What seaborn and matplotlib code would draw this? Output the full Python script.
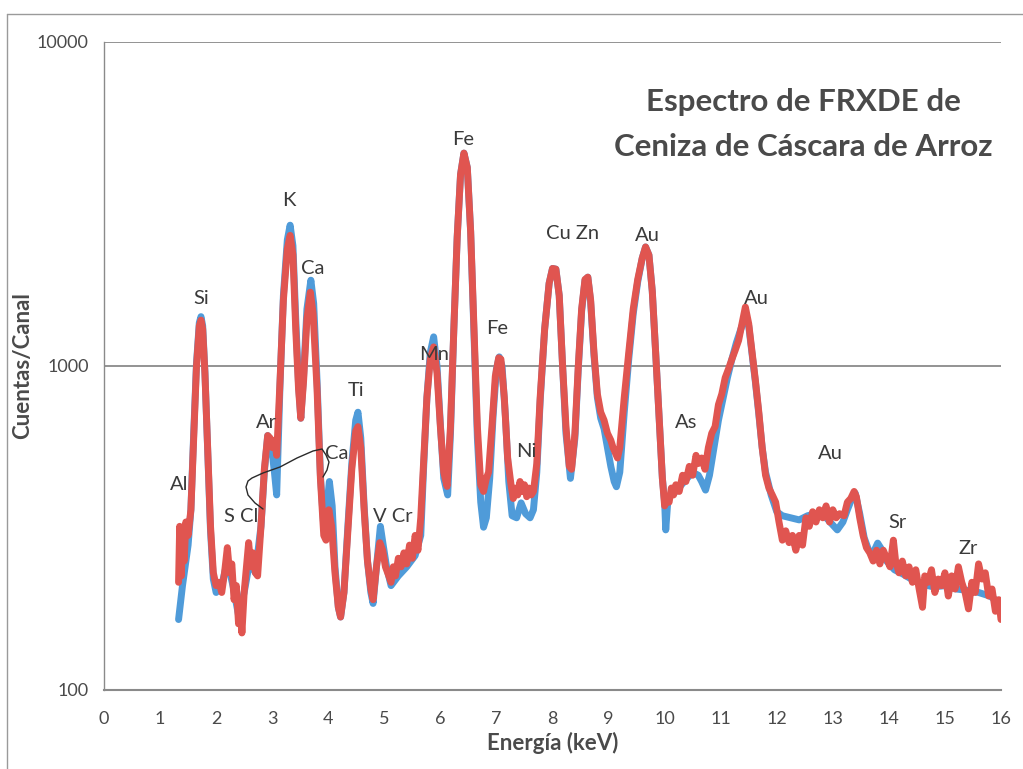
import numpy as np
import pandas as pd
import matplotlib
matplotlib.use("Agg")
import matplotlib.pyplot as plt
import seaborn as sns
from matplotlib.lines import Line2D

# ---------------- data ----------------
red_kev = [1.33, 1.35, 1.38, 1.40, 1.43, 1.46, 1.50, 1.55, 1.60, 1.65, 1.70, 1.73, 1.76, 1.80, 1.85, 1.90,
           1.95, 2.00, 2.05, 2.10, 2.15, 2.20, 2.24, 2.28, 2.32, 2.36, 2.40, 2.43, 2.46, 2.50, 2.55, 2.58,
           2.62, 2.66, 2.70, 2.74, 2.80, 2.86, 2.92, 2.96, 3.00, 3.04, 3.08, 3.14, 3.20, 3.27, 3.32, 3.37,
           3.42, 3.47, 3.51, 3.56, 3.62, 3.68, 3.73, 3.80, 3.86, 3.92, 3.96, 4.01, 4.06, 4.12, 4.18, 4.22,
           4.28, 4.35, 4.42, 4.49, 4.53, 4.58, 4.64, 4.70, 4.76, 4.80, 4.86, 4.92, 4.97, 5.02, 5.08, 5.12,
           5.16, 5.20, 5.25, 5.30, 5.35, 5.40, 5.45, 5.50, 5.55, 5.60, 5.65, 5.70, 5.76, 5.82, 5.88, 5.94,
           6.00, 6.06, 6.12, 6.18, 6.24, 6.30, 6.36, 6.42, 6.48, 6.54, 6.60, 6.66, 6.72, 6.77, 6.82, 6.86,
           6.92, 6.98, 7.04, 7.08, 7.14, 7.20, 7.26, 7.30, 7.34, 7.38, 7.42, 7.46, 7.50, 7.54, 7.58, 7.62,
           7.66, 7.72, 7.78, 7.86, 7.94, 8.00, 8.06, 8.12, 8.18, 8.24, 8.30, 8.34, 8.40, 8.46, 8.52, 8.58,
           8.63, 8.68, 8.74, 8.80, 8.86, 8.92, 8.98, 9.04, 9.08, 9.12, 9.16, 9.20, 9.28, 9.36, 9.44, 9.52,
           9.60, 9.66, 9.72, 9.78, 9.84, 9.90, 9.96, 10.00, 10.04, 10.08, 10.12, 10.16, 10.20, 10.26, 10.32, 10.38,
           10.44, 10.50, 10.56, 10.60, 10.66, 10.72, 10.78, 10.84, 10.90, 10.96, 11.02, 11.08, 11.14, 11.20, 11.26, 11.32,
           11.38, 11.44, 11.50, 11.56, 11.62, 11.68, 11.74, 11.80, 11.86, 11.92, 11.98, 12.04, 12.10, 12.16, 12.22, 12.28,
           12.34, 12.40, 12.46, 12.52, 12.58, 12.64, 12.70, 12.76, 12.82, 12.88, 12.94, 13.00, 13.06, 13.12, 13.20, 13.26,
           13.32, 13.38, 13.42, 13.48, 13.54, 13.60, 13.66, 13.72, 13.78, 13.84, 13.90, 13.96, 14.02, 14.08, 14.12, 14.18,
           14.24, 14.30, 14.36, 14.42, 14.48, 14.54, 14.60, 14.64, 14.70, 14.76, 14.82, 14.88, 14.94, 15.00, 15.06, 15.12,
           15.18, 15.24, 15.30, 15.36, 15.42, 15.48, 15.54, 15.60, 15.66, 15.72, 15.78, 15.84, 15.90, 15.96, 16.00]
red_counts = [215, 320, 225, 300, 250, 330, 300, 360, 600, 1000, 1330, 1385, 1300, 950, 550, 320,
              230, 210, 215, 200, 230, 275, 230, 245, 190, 210, 160, 185, 150, 200, 250, 285,
              240, 265, 230, 225, 320, 480, 610, 600, 560, 590, 530, 900, 1600, 2300, 2530, 2200,
              1300, 850, 690, 900, 1400, 1690, 1450, 850, 450, 300, 290, 360, 320, 230, 180, 168,
              200, 310, 480, 630, 650, 560, 360, 250, 205, 190, 240, 285, 270, 240, 225, 215,
              240, 225, 255, 240, 265, 245, 280, 255, 300, 270, 340, 500, 800, 1050, 1145, 950,
              650, 470, 425, 650, 1300, 2500, 3900, 4540, 4100, 2600, 1300, 650, 430, 410, 450, 470,
              650, 930, 1060, 1050, 800, 520, 430, 390, 420, 400, 440, 410, 430, 395, 420, 400,
              410, 500, 800, 1300, 1800, 2000, 1990, 1650, 1000, 650, 490, 480, 620, 1000, 1500, 1850,
              1880, 1600, 1100, 820, 720, 680, 620, 590, 560, 540, 520, 560, 800, 1100, 1500, 1850,
              2150, 2330, 2200, 1700, 1100, 700, 450, 370, 390, 380, 420, 400, 430, 410, 460, 440,
              490, 460, 530, 500, 520, 480, 560, 620, 650, 760, 820, 920, 980, 1050, 1120, 1200,
              1350, 1520, 1350, 1100, 900, 720, 560, 460, 420, 400, 380, 330, 290, 310, 285, 300,
              270, 300, 280, 340, 320, 355, 330, 360, 340, 370, 330, 360, 340, 350, 345, 380,
              390, 410, 395, 340, 300, 275, 265, 250, 270, 245, 270, 255, 240, 290, 250, 230,
              250, 225, 240, 215, 235, 205, 180, 225, 215, 235, 200, 220, 210, 230, 195, 225,
              205, 240, 215, 200, 178, 215, 200, 245, 220, 230, 195, 205, 175, 190, 165]

blue_kev = [1.33, 1.40, 1.50, 1.55, 1.60, 1.65, 1.70, 1.73, 1.76, 1.80, 1.85, 1.90, 1.95, 2.00, 2.10, 2.20,
            2.30, 2.40, 2.50, 2.60, 2.70, 2.80, 2.86, 2.92, 2.98, 3.04, 3.08, 3.14, 3.20, 3.27, 3.32, 3.37,
            3.42, 3.47, 3.51, 3.56, 3.62, 3.69, 3.74, 3.80, 3.86, 3.92, 3.97, 4.02, 4.07, 4.12, 4.18, 4.22,
            4.28, 4.35, 4.42, 4.49, 4.53, 4.58, 4.64, 4.70, 4.76, 4.80, 4.86, 4.93, 4.98, 5.04, 5.12, 5.25,
            5.40, 5.55, 5.65, 5.70, 5.76, 5.82, 5.88, 5.94, 6.00, 6.06, 6.13, 6.18, 6.24, 6.30, 6.36, 6.42,
            6.48, 6.54, 6.60, 6.66, 6.72, 6.77, 6.82, 6.88, 6.94, 7.00, 7.05, 7.10, 7.16, 7.22, 7.28, 7.36,
            7.44, 7.52, 7.60, 7.66, 7.72, 7.78, 7.86, 7.94, 8.00, 8.06, 8.12, 8.18, 8.24, 8.32, 8.40, 8.46,
            8.52, 8.58, 8.63, 8.68, 8.74, 8.80, 8.86, 8.92, 8.98, 9.04, 9.10, 9.14, 9.20, 9.28, 9.36, 9.44,
            9.52, 9.60, 9.66, 9.72, 9.78, 9.84, 9.90, 9.96, 10.00, 10.02, 10.06, 10.12, 10.20, 10.30, 10.40, 10.50,
            10.60, 10.66, 10.73, 10.80, 10.88, 10.96, 11.04, 11.12, 11.20, 11.28, 11.36, 11.44, 11.50, 11.56, 11.62, 11.68,
            11.74, 11.80, 11.90, 12.00, 12.10, 12.25, 12.40, 12.55, 12.70, 12.85, 12.95, 13.08, 13.18, 13.26, 13.34, 13.40,
            13.48, 13.56, 13.64, 13.72, 13.80, 13.88, 13.96, 14.10, 14.25, 14.40, 14.60, 14.80, 15.00, 15.20, 15.40, 15.60,
            15.80, 16.00]
blue_counts = [165, 210, 280, 360, 620, 1020, 1360, 1420, 1330, 960, 540, 310, 220, 200, 210, 250,
               210, 170, 200, 250, 230, 320, 470, 610, 580, 470, 400, 880, 1650, 2450, 2720, 2350,
               1400, 880, 690, 930, 1500, 1840, 1560, 900, 460, 320, 360, 440, 370, 240, 180, 168,
               200, 320, 500, 680, 720, 600, 370, 250, 200, 185, 240, 320, 280, 240, 210, 225,
               240, 260, 300, 480, 800, 1100, 1230, 1000, 660, 450, 400, 620, 1300, 2500, 3900, 4540,
               4100, 2600, 1250, 600, 380, 318, 340, 450, 700, 980, 1067, 1000, 700, 440, 345, 340,
               378, 350, 340, 360, 470, 780, 1300, 1800, 2000, 1990, 1650, 1000, 620, 450, 600, 980,
               1480, 1840, 1880, 1580, 1080, 800, 690, 640, 560, 490, 440, 424, 470, 720, 1050, 1450,
               1820, 2150, 2330, 2200, 1700, 1100, 700, 450, 380, 312, 390, 400, 410, 430, 450, 470,
               460, 440, 414, 460, 560, 680, 790, 920, 1050, 1180, 1300, 1420, 1330, 1090, 890, 710,
               560, 470, 400, 355, 345, 340, 335, 345, 350, 345, 330, 312, 330, 360, 390, 405,
               350, 295, 270, 265, 284, 270, 250, 235, 228, 220, 212, 208, 210, 205, 203, 200,
               195, 185]

peak_labels = ["Al", "Si", "S Cl", "Ar", "K", "Ca", "Ca", "Ti", "V Cr", "Mn", "Fe", "Fe", "Ni",
               "Cu Zn", "Au", "As", "Au", "Au", "Sr", "Zr"]
label_kev = [1.34, 1.73, 2.44, 2.89, 3.30, 3.73, 4.15, 4.49, 5.15, 5.88, 6.40, 7.02, 7.54,
             8.36, 9.70, 10.39, 11.64, 12.96, 14.15, 15.42]
label_counts = [430, 1620, 344, 667, 3247, 2005, 538, 843, 344, 1082, 4990, 1310, 543,
                2570, 2520, 667, 1620, 538, 330, 274]

x_ticks = list(range(0, 17))
y_ticks = [100, 1000, 10000]
y_tick_labels = ["100", "1000", "10000"]
title_lines = ["Espectro de FRXDE de", "Ceniza de Cáscara de Arroz"]

# hand-drawn pen stroke on the scanned page (pixel positions on the page)
pen_x_px = [263, 255, 248, 246, 248, 252, 263, 280, 297, 313, 322, 326, 329, 327, 323]
pen_y_px = [509, 503, 495, 487, 481, 478, 473, 467, 458, 451, 449, 455, 462, 470, 477]

# ---------------- style ----------------
sns.set_theme(style="white")
plt.rcParams["font.family"] = ["Lato", "DejaVu Sans"]

W, H = 1023, 769
fig = plt.figure(figsize=(W / 100, H / 100), dpi=100)
ax = fig.add_axes([104 / W, 1 - 690 / H, (1001 - 104) / W, (690 - 42) / H])

blue = "#4F9BD9"
red = "#E05550"

df_blue = pd.DataFrame({"kev": blue_kev, "counts": blue_counts})
df_red = pd.DataFrame({"kev": red_kev, "counts": red_counts})
sns.lineplot(data=df_blue, x="kev", y="counts", ax=ax, color=blue, linewidth=5.0,
             sort=False, estimator=None, solid_joinstyle="round", solid_capstyle="round")
sns.lineplot(data=df_red, x="kev", y="counts", ax=ax, color=red, linewidth=5.0,
             sort=False, estimator=None, solid_joinstyle="round", solid_capstyle="round")

ax.set_yscale("log")
ax.set_xlim(0, 16)
ax.set_ylim(100, 10000)
ax.set_xticks(x_ticks)
ax.set_xticklabels([str(t) for t in x_ticks])
ax.set_yticks(y_ticks)
ax.set_yticklabels(y_tick_labels)
ax.yaxis.set_minor_locator(matplotlib.ticker.NullLocator())

gridc = "#8a8a8a"
ax.grid(False)
for yv in [1000, 10000]:
    ax.axhline(yv, color=gridc, linewidth=1.3, zorder=0)
for s in ["top", "right"]:
    ax.spines[s].set_visible(False)
ax.spines["left"].set_color(gridc)
ax.spines["left"].set_linewidth(1.0)
ax.spines["bottom"].set_color(gridc)
ax.spines["bottom"].set_linewidth(1.5)
ax.tick_params(axis="both", which="major", direction="out", length=5, width=1,
               color=gridc, labelcolor="#4a4a4a", labelsize=13)
ax.tick_params(axis="x", pad=10)
ax.tick_params(axis="y", pad=6)

ax.set_xlabel("Energía (keV)", fontsize=16, fontweight="bold", color="#4a4a4a", labelpad=4)
ax.set_ylabel("Cuentas/Canal", fontsize=16, fontweight="bold", color="#4a4a4a")
ax.yaxis.set_label_coords(-0.079, 0.5)

for lab, xk, yc in zip(peak_labels, label_kev, label_counts):
    ax.text(xk, yc, lab, ha="center", va="center", fontsize=14.5, color="#3a3a3a")

ax.text(0.78, 0.907, title_lines[0], transform=ax.transAxes, ha="center", va="center",
        fontsize=22.5, fontweight="bold", color="#4a4a4a")
ax.text(0.78, 0.838, title_lines[1], transform=ax.transAxes, ha="center", va="center",
        fontsize=22.5, fontweight="bold", color="#4a4a4a")

# pen stroke and chart-area border seen on the scan
fig.add_artist(Line2D([px / W for px in pen_x_px], [1 - py / H for py in pen_y_px],
                      transform=fig.transFigure, color="#2a2a2a", lw=1.0))
fig.add_artist(Line2D([0.007, 0.007], [0.0, 0.982], transform=fig.transFigure, color="#9a9a9a", lw=1))
fig.add_artist(Line2D([0.007, 1.0], [0.982, 0.982], transform=fig.transFigure, color="#9a9a9a", lw=1))

fig.savefig("out.png", dpi=100)
